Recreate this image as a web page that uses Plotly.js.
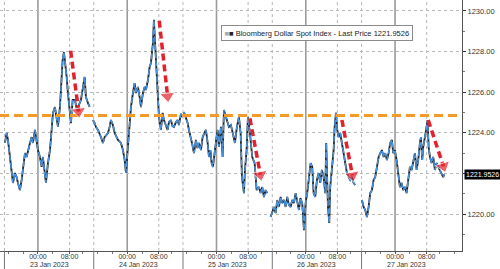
<!DOCTYPE html>
<html><head><meta charset="utf-8">
<script src="https://cdn.plot.ly/plotly-3.0.1.min.js"></script>
<style>html,body{margin:0;padding:0;background:#fff}#c{width:500px;height:269px}</style>
</head><body><div id="c"></div>
<script>
// hours relative to 23 Jan 2023 00:00
const hours = [-8.87,-8.41,-8.06,-7.07,-6.72,-6.18,-5.73,-5.38,-4.84,-4.38,-4.03,-3.49,-3.04,-2.69,-2.15,-1.69,-1.34,-0.81,-0.35,0,0.54,0.99,1.34,1.88,2.15,2.69,3.23,3.68,4.03,4.57,5.03,5.38,5.91,6.18,6.64,6.99,7.26,7.72,8.06,8.60,8.87,9.33,9.95,10.48,11.56,12.55,12.90,13.44,13.90,14.3,
14.78,15.24,15.59,16.13,16.94,17.47,17.93,18.82,19.27,19.62,20.16,20.62,21.51,22.31,22.85,23.31,23.66,24.19,24.65,25.0,25.54,25.99,26.34,26.88,27.34,27.69,28.23,28.68,29.03,29.57,30.03,30.38,30.91,31.18,31.45,31.91,32.18,32.53,33.06,33.52,33.87,34.41,34.87,35.22,35.75,36.16,36.56,37.10,37.55,37.90,38.44,38.90,39.05,
39.25,39.78,40.24,40.59,41.13,41.53,41.94,42.47,42.88,43.28,43.82,44.27,44.62,45.16,45.62,45.97,46.37,46.69,47.04,47.58,47.98,48.31,48.66,49.19,49.65,50.0,50.54,51.0,51.34,51.88,52.34,52.69,52.96,53.49,54.03,54.49,54.84,55.38,55.65,56.10,56.45,56.99,57.61,58.25,58.79,59.41,59.87,60.30,60.75,61.21,61.64,62.1,
62.55,62.98,63.44,63.90,64.33,64.78,65.24,65.67,66.13,66.59,67.02,67.47,67.93,68.36,68.82,69.27,69.76,70.16,70.56,71.05,71.51,71.96,72.39,72.85,73.31,73.74,74.11,74.54,75.0,75.46,75.89,76.34,76.80,77.23,77.50,77.96,78.31,78.58,79.03,79.49,79.76,80.11,80.46,80.83,81.26,81.72,82.18,82.61,83.06,83.52,83.95,84.41,84.87,85.30,86.2,
87.10,87.55,87.98,88.44,88.90,89.33,89.78,90.24,90.67,91.13,91.59,92.02,92.47,92.93,93.36,93.82,94.27,94.70,95.16,95.51,95.97,96.42,96.85,97.31,97.77,98.20,98.66,99.11,99.54,100.0,100.46,100.89,101.34,101.80,102.23,102.69,102.96,103.31,103.58,104.03,104.49,104.76,105.03,105.38,105.83,106.26,106.72,107.18,107.61,108.06,108.52,108.95,109.22];
const price = [1223.50,1223.99,1223.65,1221.82,1221.53,1222.02,1221.82,1221.53,1221.18,1221.68,1222.32,1223.00,1222.81,1223.15,1223.50,1223.79,1223.50,1224.14,1223.65,1223.15,1222.81,1222.32,1222.81,1221.82,1221.53,1222.51,1223.15,1224.14,1224.98,1225.27,1224.63,1224.29,1225.27,1226.26,1227.59,1227.98,1227.59,1226.75,1225.96,1225.12,1224.48,1225.62,1225.62,1225.12,1225.62,1226.75,1225.76,1225.47,1225.27,null,
1224.63,1224.48,1224.29,1224.14,1223.79,1223.50,1223.79,1223.99,1224.29,1224.63,1224.38,1223.99,1223.65,1223.50,1223.15,1222.66,1222.02,1223.15,1224.29,1225.27,1225.96,1226.45,1225.96,1226.26,1225.76,1225.27,1225.96,1226.26,1226.11,1226.60,1227.24,1227.44,1228.42,1229.56,1228.57,1227.09,1225.62,1224.78,1224.14,1224.98,1224.63,1224.33,1224.14,1224.53,1224.63,1224.33,1224.29,1224.53,1224.63,1224.38,1224.93,1224.78,null,
1225.02,1224.73,1224.48,1224.14,1223.79,1223.40,1223.00,1223.65,1223.25,1223.50,1223.15,1223.79,1223.94,1224.14,1223.50,1222.81,1223.15,1222.51,1222.32,1223.30,1223.74,1224.14,1223.30,1224.29,1222.81,1225.12,1224.78,1224.48,1224.29,1224.38,1223.99,1223.65,1223.50,1224.29,1224.78,1223.99,1221.82,1221.03,1222.17,1223.15,1224.78,1223.99,1222.81,1222.51,1221.18,1221.33,1221.03,1221.33,1220.84,1221.18,1221.03,null,
1219.85,1220.05,1220.35,1220.05,1220.69,1220.35,1220.84,1220.54,1220.69,1220.35,1220.84,1220.44,1220.35,1220.69,1220.54,1221.03,1220.59,1220.20,1220.79,1220.54,1219.21,1220.54,1221.03,1221.82,1222.51,1222.32,1221.03,1220.84,1221.68,1222.02,1221.53,1222.17,1221.82,1221.03,1223.50,1220.35,1219.56,1221.33,1222.17,1223.15,1224.29,1224.98,1224.14,1223.79,1223.99,1223.50,1223.15,1222.66,1222.02,1221.82,1221.68,1221.82,1221.53,1221.43,null,
1220.69,1220.35,1220.20,1219.85,1220.35,1221.03,1221.18,1221.68,1221.82,1222.32,1222.81,1223.00,1223.15,1222.81,1223.00,1222.66,1223.00,1223.50,1223.65,1223.00,1223.15,1222.66,1222.02,1221.33,1221.53,1221.18,1221.33,1221.03,1221.68,1222.32,1222.17,1222.51,1223.00,1222.17,1222.66,1223.50,1223.79,1222.66,1223.30,1223.79,1224.48,1224.63,1223.30,1222.81,1222.51,1222.81,1222.17,1222.51,1222.32,1222.17,1222.02,1221.82,1221.9526];

const lastPrice = 1221.9526;
const resistance = 1224.85;
const seriesName = "Bloomberg Dollar Spot Index - Last Price 1221.9526";
const yTicks = [1220,1222,1224,1226,1228,1230];
const yTickText = ["1220.00","","1224.00","1226.00","1228.00","1230.00"];
const yMinor = [1219,1221,1223,1225,1227,1229];
const xTickVals = [0,8.5,24,32.5,48,56.5,72,80.5,96,104.5];
const xTickText = ["00:00","08:00","00:00","08:00","00:00","08:00","00:00","08:00","00:00","08:00"];
const midnights = [0,24,48,72,96];
const eights = [8.5,32.5,56.5,80.5,104.5];
const dayBreaks = [-9,15,39,63,87];
const dateLabels = ["23 Jan 2023","24 Jan 2023","25 Jan 2023","26 Jan 2023","27 Jan 2023"];
const datePos = [3,27,51,75,99];
const arrowStartT = [8.79,32.61,56.99,81.72,104.92];
const arrowStartV = [1228.04,1229.52,1224.71,1224.63,1224.63];
const arrowEndT = [10.95,34.85,59.8,84.55,109.0];
const arrowEndV = [1225.05,1225.80,1221.93,1221.90,1222.35];

const F = "Liberation Sans, Arial, sans-serif";
const traces = [
  {x:hours,y:price,type:'scatter',mode:'lines',line:{color:'#1e1e1e',width:1.8},connectgaps:false,hoverinfo:'skip'},
  {x:hours,y:price,type:'scatter',mode:'lines',line:{color:'#4a93de',width:1.5,dash:'6px,2px'},connectgaps:false,hoverinfo:'skip'},
  {x:[-10.2,114],y:[resistance,resistance],type:'scatter',mode:'lines',line:{color:'#f39a2b',width:3,dash:'9px,5px'},hoverinfo:'skip'}
];
for(let i=0;i<arrowStartT.length;i++){
  traces.push({x:[arrowStartT[i],arrowEndT[i]],y:[arrowStartV[i],arrowEndV[i]],type:'scatter',mode:'lines+markers',
    line:{color:'#e3202b',width:3.5,dash:'7px,4px'},
    marker:{symbol:'triangle-up',angleref:'previous',size:[0,13],color:'#e3202b'},hoverinfo:'skip'});
}
const shapes = [];
midnights.forEach(t=>shapes.push({type:'line',xref:'x',yref:'paper',x0:t,x1:t,y0:0,y1:1,layer:'below',line:{color:'#9a9a9a',width:1.6}}));
eights.forEach(t=>shapes.push({type:'line',xref:'x',yref:'paper',x0:t,x1:t,y0:0,y1:1,layer:'below',line:{color:'#b5b5b5',width:1,dash:'dot'}}));
dayBreaks.forEach(t=>{
  shapes.push({type:'line',xref:'x',yref:'paper',x0:t,x1:t,y0:0,y1:1,layer:'below',line:{color:'#b5b5b5',width:1,dash:'dot'}});
  shapes.push({type:'line',xref:'x',yref:'paper',x0:t,x1:t,y0:0,y1:-0.075,layer:'above',line:{color:'#777',width:1}});
});
const annotations = dateLabels.map((d,i)=>({x:datePos[i],xref:'x',y:-0.0717,yref:'paper',text:d,showarrow:false,yanchor:'bottom',font:{family:F,size:7,color:'#333'},borderpad:0}));
annotations.push({x:0.687,xref:'paper',xanchor:'center',y:0.869,yref:'paper',yanchor:'middle',showarrow:false,
  text:"<span style='color:#aaa'>■</span>■ "+seriesName,font:{family:F,size:7.5,color:'#222'},
  bgcolor:'#fff',bordercolor:'#8a8a8a',borderwidth:1,borderpad:2.5});
annotations.push({x:1.005,xref:'paper',y:lastPrice,yref:'y',xanchor:'left',showarrow:false,text:lastPrice.toFixed(4),
  font:{family:F,size:7,color:'#fff'},bgcolor:'#000',borderpad:1});

const layout = {
  width:500,height:269,margin:{l:0,r:38,t:0,b:18},paper_bgcolor:'#fff',plot_bgcolor:'#fff',showlegend:false,
  xaxis:{range:[-10.2,114],tickmode:'array',tickvals:xTickVals,ticktext:xTickText,showgrid:false,zeroline:false,
    showline:true,linecolor:'#555',linewidth:1,ticks:'outside',ticklen:2,tickcolor:'#555',ticklabelstandoff:-3,
    tickfont:{family:F,size:7,color:'#333'},
    minor:{tickvals:[-8,-4,4,12,16,20,28,36,40,44,52,60,64,68,76,84,88,92,100,108,112],ticklen:2,ticks:'outside',tickcolor:'#777',showgrid:false}},
  yaxis:{side:'right',range:[1218.18,1230.54],tickmode:'array',tickvals:yTicks,ticktext:yTickText,zeroline:false,
    showgrid:true,gridcolor:'#b8b8b8',griddash:'dot',gridwidth:1,showline:true,linecolor:'#555',linewidth:1,
    ticks:'outside',ticklen:3,tickcolor:'#333',tickfont:{family:F,size:7.5,color:'#333'},
    minor:{tickvals:yMinor,ticklen:2,ticks:'outside',tickcolor:'#777',showgrid:false}},
  shapes:shapes,annotations:annotations
};
Plotly.newPlot('c',traces,layout,{staticPlot:true,displayModeBar:false});
</script></body></html>
